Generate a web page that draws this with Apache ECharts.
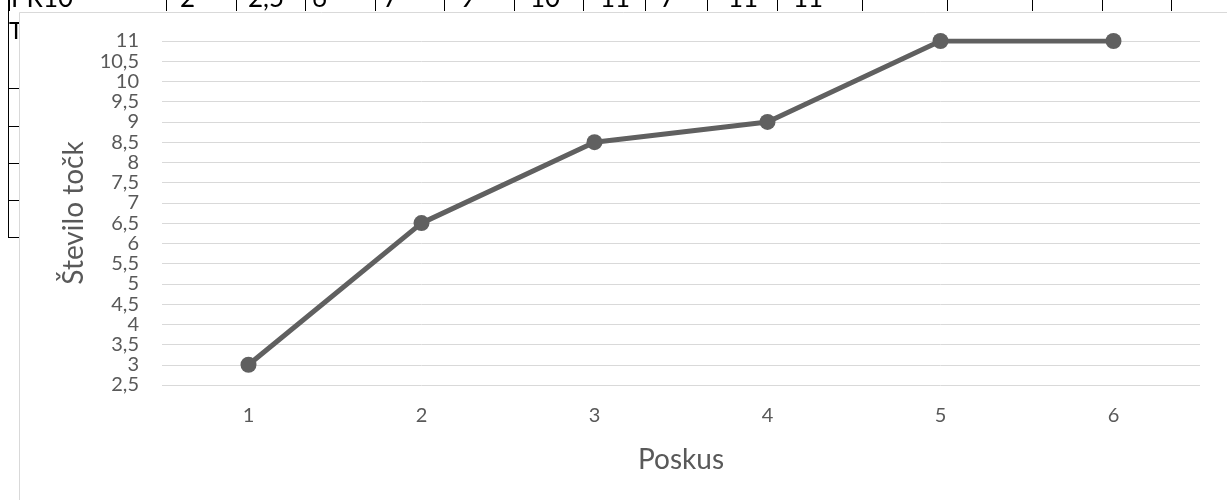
<!DOCTYPE html>
<html>
<head>
<meta charset="utf-8">
<script src="https://cdn.jsdelivr.net/npm/echarts@6/dist/echarts.min.js"></script>
<style>
html,body{margin:0;padding:0;background:#fff;}
#c{width:1227px;height:500px;}
</style>
</head>
<body>
<div id="c"></div>
<script>
// data
const categories = ['1', '2', '3', '4', '5', '6'];
const points = [3, 6.5, 8.5, 9, 11, 11];
const yMin = 2.5, yMax = 11, yStep = 0.5;
const xTitle = 'Poskus';
const yTitle = 'Število točk';
// spreadsheet row visible behind the chart (cut off at the top)
const sheetCells = ['PR10', '2', '2,5', '6', '7', '9', '10', '11', '7', '11', '11'];
const sheetCellX = [11, 180, 248, 312, 383, 460, 530, 600, 660, 728, 793];
const sheetLinesX = [9, 166, 236, 305, 375, 444, 514, 583, 645, 707, 777, 862, 947, 1032, 1102, 1171];
const sheetTicksY = [88, 126, 163, 200, 237];

const chart = echarts.init(document.getElementById('c'), null, {renderer: 'canvas'});

const graphics = [];
sheetCells.forEach((t, i) => {
  graphics.push({type: 'text', z: -3, x: sheetCellX[i], y: 12, silent: true,
    style: {text: t, font: '26px Lato', fill: '#000', verticalAlign: 'bottom', align: 'left'}});
});
sheetLinesX.forEach(x => {
  graphics.push({type: 'line', z: -3, silent: true,
    shape: {x1: x + 0.5, y1: 0, x2: x + 0.5, y2: 11}, style: {stroke: '#000', lineWidth: 1}});
});
graphics.push({type: 'line', z: -3, silent: true,
  shape: {x1: 8.5, y1: 0, x2: 8.5, y2: 237}, style: {stroke: '#000', lineWidth: 1}});
sheetTicksY.forEach(y => {
  graphics.push({type: 'line', z: -3, silent: true,
    shape: {x1: 8, y1: y + 0.5, x2: 20, y2: y + 0.5}, style: {stroke: '#000', lineWidth: 1}});
});
graphics.push({type: 'text', z: -3, x: 9, y: 19, silent: true,
  style: {text: 'T', font: '24px Lato', fill: '#000', verticalAlign: 'top', align: 'left'}});
// chart area box
graphics.push({type: 'rect', z: -1, silent: true,
  shape: {x: 19.5, y: 12.5, width: 1240, height: 520},
  style: {fill: '#fff', stroke: '#d9d9d9', lineWidth: 1}});

chart.setOption({
  animation: false,
  backgroundColor: '#fff',
  graphic: {elements: graphics},
  grid: {left: 162, right: 27, top: 41, bottom: 115, containLabel: false},
  xAxis: {
    type: 'category',
    data: categories,
    boundaryGap: true,
    axisLine: {show: false},
    axisTick: {show: false},
    axisLabel: {color: '#595959', fontSize: 20, fontFamily: 'Lato', margin: 21},
    name: xTitle,
    nameLocation: 'middle',
    nameGap: 61,
    nameTextStyle: {color: '#595959', fontSize: 28, fontFamily: 'Lato'}
  },
  yAxis: {
    type: 'value',
    min: yMin, max: yMax, interval: yStep,
    axisLine: {show: false},
    axisTick: {show: false},
    splitLine: {show: true, lineStyle: {color: '#d9d9d9', width: 1}},
    axisLabel: {color: '#595959', fontSize: 20, lineHeight: 17, fontFamily: 'Lato', margin: 23,
      showMinLabel: true, showMaxLabel: true, hideOverlap: false,
      formatter: v => String(v).replace('.', ',')},
    name: yTitle,
    nameLocation: 'middle',
    nameGap: 74,
    nameTextStyle: {color: '#595959', fontSize: 28, fontFamily: 'Lato'}
  },
  series: [{
    type: 'line',
    data: points,
    symbol: 'circle',
    symbolSize: 16,
    lineStyle: {color: '#606060', width: 5},
    itemStyle: {color: '#606060'}
  }]
});
</script>
</body>
</html>
